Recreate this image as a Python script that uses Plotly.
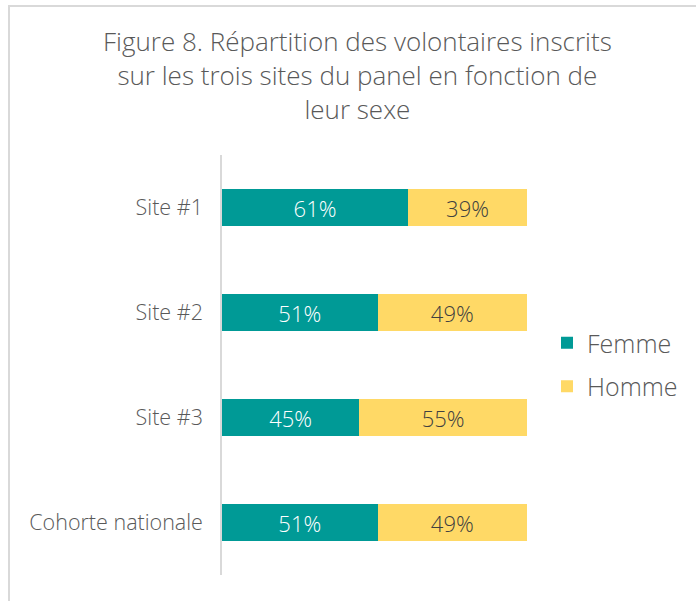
import plotly.graph_objects as go

categories = ["Site #1", "Site #2", "Site #3", "Cohorte nationale"]
femme = [61, 51, 45, 51]
homme = [39, 49, 55, 49]
title_lines = [
    "Figure 8. Répartition des volontaires inscrits",
    "sur les trois sites du panel en fonction de",
    "leur sexe",
]

TEAL = "#009A96"
YELLOW = "#FFD966"
GREY = "#595959"
FONT = "'Open Sans', Lato, sans-serif"

fig = go.Figure()
fig.add_trace(go.Bar(
    y=categories, x=femme, name="Femme", orientation="h", legendgroup="f",
    marker=dict(color=TEAL, line=dict(width=0)),
    texttemplate="%{x}%", textposition="inside", insidetextanchor="middle",
    textfont=dict(color="white", size=22, family=FONT, weight=300),
))
fig.add_trace(go.Bar(
    y=categories, x=homme, name="Homme", orientation="h", legendgroup="h",
    marker=dict(color=YELLOW, line=dict(width=0)),
    texttemplate="%{x}%", textposition="inside", insidetextanchor="middle",
    textfont=dict(color="#404040", size=22, family=FONT, weight=300),
))

L, R, T, B = 222, 527, 155, 575
W, H = 696, 601
pw, ph = R - L, B - T

fig.update_layout(
    width=W, height=H,
    barmode="stack", bargap=0.64,
    margin=dict(l=L, r=W - R, t=T, b=H - B, pad=0),
    paper_bgcolor="white", plot_bgcolor="white",
    font=dict(family=FONT, color=GREY, weight=300),
    annotations=[dict(
        text="<br>".join(title_lines), xref="paper", yref="paper",
        x=(357 - L) / pw, y=(B - 75) / ph, xanchor="center", yanchor="middle",
        align="center", showarrow=False, borderpad=0,
        font=dict(size=26, color=GREY, family=FONT, weight=300),
    )],
    xaxis=dict(range=[0, 100], visible=False, fixedrange=True),
    yaxis=dict(
        autorange="reversed", showline=True, linecolor="#D9D9D9", linewidth=1.5,
        showgrid=False, zeroline=False, ticks="", ticklabelstandoff=13,
        tickfont=dict(size=21.5, color=GREY, family=FONT, weight=300),
        fixedrange=True,
    ),
    legend=dict(
        x=(547 - L) / pw, xanchor="left", y=(B - 320) / ph, yanchor="top",
        font=dict(size=25, color=GREY, family=FONT, weight=300),
        traceorder="grouped", tracegroupgap=8, itemwidth=30,
    ),
    showlegend=True,
    shapes=[dict(
        type="rect", xref="paper", yref="paper",
        x0=(9 - L) / pw, x1=(720 - L) / pw,
        y0=(B - 6) / ph, y1=(B - 630) / ph,
        line=dict(color="#D9D9D9", width=2), fillcolor="rgba(0,0,0,0)",
        layer="below",
    )],
)

fig.write_html("out.html", config={"displayModeBar": False},
               post_script="document.body.style.margin='0';")
